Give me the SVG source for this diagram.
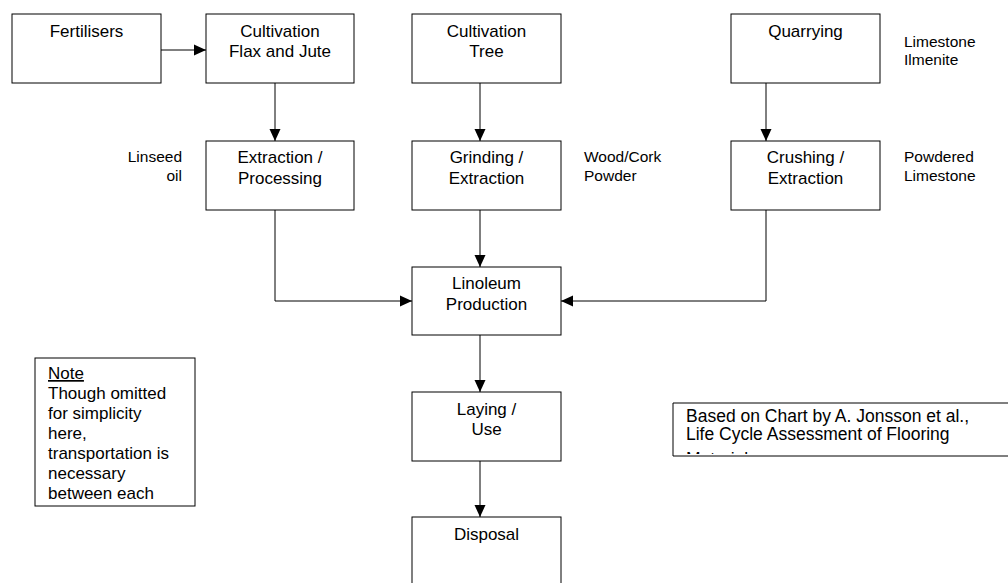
<svg xmlns="http://www.w3.org/2000/svg" width="1008" height="583" viewBox="0 0 1008 583">
<style>
.box{fill:#fff;stroke:#000;stroke-width:1}
.t{font-family:"Liberation Sans",Arial,sans-serif;font-size:17px;fill:#000;text-anchor:middle}
.s{font-family:"Liberation Sans",Arial,sans-serif;font-size:15.5px;fill:#000}
.n{font-family:"Liberation Sans",Arial,sans-serif;font-size:17px;fill:#000}
.b{font-family:"Liberation Sans",Arial,sans-serif;font-size:17.5px;fill:#000}
.c{fill:none;stroke:#000;stroke-width:1}
</style>
<defs>
<marker id="ah" viewBox="0 0 12 12" refX="12" refY="6" markerWidth="12" markerHeight="12" markerUnits="userSpaceOnUse" orient="auto">
<path d="M0,0.5 L12,6 L0,11.5 Z" fill="#000"/>
</marker>
<clipPath id="cb"><rect x="673" y="403" width="340" height="51"/></clipPath>
</defs>
<rect width="1008" height="583" fill="#fff"/>
<g id="connectors">
<path class="c" d="M161,50 H206" marker-end="url(#ah)"/>
<path class="c" d="M275,83 V141" marker-end="url(#ah)"/>
<path class="c" d="M480,83 V141" marker-end="url(#ah)"/>
<path class="c" d="M766,83 V141" marker-end="url(#ah)"/>
<path class="c" d="M275,210 V301 H412" marker-end="url(#ah)"/>
<path class="c" d="M480,210 V267" marker-end="url(#ah)"/>
<path class="c" d="M766,210 V301 H561" marker-end="url(#ah)"/>
<path class="c" d="M480,335 V392" marker-end="url(#ah)"/>
<path class="c" d="M480,461 V517" marker-end="url(#ah)"/>
</g>
<g id="fertilisers"><rect class="box" x="12" y="14" width="149" height="69"/><text class="t" x="86.5" y="37">Fertilisers</text></g>
<g id="cultivation-flax"><rect class="box" x="206" y="14" width="148" height="69"/><text class="t" x="280" y="37">Cultivation</text><text class="t" x="280" y="57">Flax and Jute</text></g>
<g id="cultivation-tree"><rect class="box" x="412" y="14" width="149" height="69"/><text class="t" x="486.5" y="37">Cultivation</text><text class="t" x="486.5" y="57">Tree</text></g>
<g id="quarrying"><rect class="box" x="731" y="14" width="149" height="69"/><text class="t" x="805.5" y="37">Quarrying</text></g>
<g id="limestone-label"><text class="s" x="904" y="47">Limestone</text><text class="s" x="904" y="65">Ilmenite</text></g>
<g id="extraction-processing"><rect class="box" x="206" y="141" width="148" height="69"/><text class="t" x="280" y="163">Extraction /</text><text class="t" x="280" y="184">Processing</text></g>
<g id="linseed-label"><text class="s" x="182" y="162" text-anchor="end">Linseed</text><text class="s" x="182" y="181" text-anchor="end">oil</text></g>
<g id="grinding-extraction"><rect class="box" x="412" y="141" width="149" height="69"/><text class="t" x="486.5" y="163">Grinding /</text><text class="t" x="486.5" y="184">Extraction</text></g>
<g id="woodcork-label"><text class="s" x="584" y="162">Wood/Cork</text><text class="s" x="584" y="181">Powder</text></g>
<g id="crushing-extraction"><rect class="box" x="731" y="141" width="149" height="69"/><text class="t" x="805.5" y="163">Crushing /</text><text class="t" x="805.5" y="184">Extraction</text></g>
<g id="powdered-label"><text class="s" x="904" y="162">Powdered</text><text class="s" x="904" y="181">Limestone</text></g>
<g id="linoleum-production"><rect class="box" x="412" y="267" width="149" height="68"/><text class="t" x="486.5" y="289">Linoleum</text><text class="t" x="486.5" y="310">Production</text></g>
<g id="laying-use"><rect class="box" x="412" y="392" width="149" height="69"/><text class="t" x="486.5" y="415">Laying /</text><text class="t" x="486.5" y="435">Use</text></g>
<g id="disposal"><rect class="box" x="412" y="517" width="149" height="80"/><text class="t" x="486.5" y="540">Disposal</text></g>
<g id="note">
<rect class="box" x="35" y="358" width="160" height="148"/>
<text class="n" x="48" y="379" text-decoration="underline">Note</text>
<text class="n" x="48" y="399">Though omitted</text>
<text class="n" x="48" y="419">for simplicity</text>
<text class="n" x="48" y="439">here,</text>
<text class="n" x="48" y="459">transportation is</text>
<text class="n" x="48" y="479">necessary</text>
<text class="n" x="48" y="499">between each</text>
</g>
<g id="source">
<path class="c" d="M1010,403 H673 V456 H1010"/>
<g clip-path="url(#cb)">
<text class="b" x="686" y="422">Based on Chart by A. Jonsson et al.,</text>
<text class="b" x="686" y="440">Life Cycle Assessment of Flooring</text>
<text class="b" x="686" y="465">Materials</text>
</g>
</g>
</svg>
